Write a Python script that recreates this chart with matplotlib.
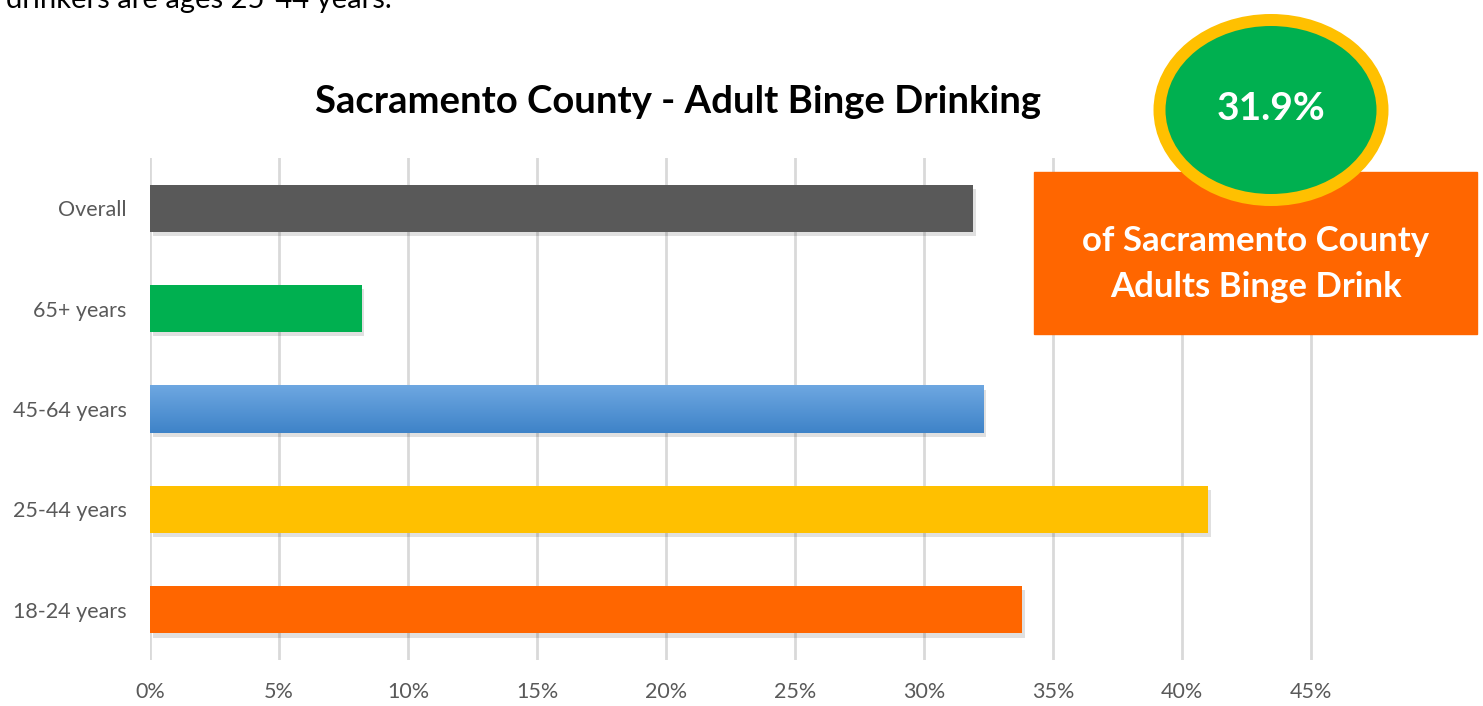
import numpy as np
import matplotlib
matplotlib.use('Agg')
import matplotlib.pyplot as plt
from matplotlib import patheffects as pe
from matplotlib.patches import Rectangle, Ellipse
from matplotlib.ticker import PercentFormatter

plt.rcParams['font.family'] = ['Lato', 'DejaVu Sans']

# data (top to bottom as in the chart)
categories = ['Overall', '65+ years', '45-64 years', '25-44 years', '18-24 years']
values = [31.9, 8.2, 32.3, 41.0, 33.8]
colors = ['#595959', '#00B050', '#5B9BD5', '#FFC000', '#FF6600']
xticks = [0, 5, 10, 15, 20, 25, 30, 35, 40, 45]
title = 'Sacramento County - Adult Binge Drinking'
headline = '31.9%'
headline_sub = 'of Sacramento County\nAdults Binge Drink'
intro_tail = 'drinkers are ages 25-44 years.'

W, H = 1483, 706
fig = plt.figure(figsize=(W / 100, H / 100), dpi=100)
ax = fig.add_axes([150 / W, 1 - 660 / H, 1290 / W, 502 / H])

y = np.arange(len(categories))
shadow = [pe.SimplePatchShadow(offset=(2, -3), shadow_rgbFace='#000000', alpha=0.12), pe.Normal()]
bars = ax.barh(y, values, height=0.47, color=colors, zorder=3)
for b in bars:
    b.set_path_effects(shadow)

# blue bar has a vertical gradient
blue = bars[2]
grad = np.linspace(0, 1, 64).reshape(-1, 1)
cmap = matplotlib.colors.LinearSegmentedColormap.from_list('bl', ['#6EA7E1', '#3E83C8'])
im = ax.imshow(grad, extent=(0, values[2], y[2] + 0.235, y[2] - 0.235), cmap=cmap,
               aspect='auto', zorder=4, origin='upper')
im.set_clip_path(blue)

ax.set_xlim(0, 50)
ax.set_ylim(len(categories) - 0.5, -0.5)
ax.set_xticks(xticks)
ax.xaxis.set_major_formatter(PercentFormatter(decimals=0))
ax.set_yticks(y)
ax.set_yticklabels(categories)
ax.grid(axis='x', color='#D9D9D9', linewidth=2, zorder=0)
ax.set_axisbelow(True)
for s in ax.spines.values():
    s.set_visible(False)
ax.tick_params(axis='both', length=0, colors='#595959', labelsize=15.5)
ax.tick_params(axis='x', pad=16)
ax.tick_params(axis='y', pad=17)

# overlay in pixel coords for title and callout
ov = fig.add_axes([0, 0, 1, 1], zorder=10)
ov.set_xlim(0, W)
ov.set_ylim(H, 0)
ov.axis('off')

ov.text(678, 102, title, ha='center', va='center', fontsize=27.5, fontweight='bold', color='black')
ov.text(6, 8, intro_tail, ha='left', va='baseline', fontsize=21, color='black')

ov.add_patch(Rectangle((1034, 172), 443, 162, color='#FF6600', zorder=1))
ov.add_patch(Ellipse((1271, 110), 235, 192, facecolor='#FFC000', zorder=2))
ov.add_patch(Ellipse((1271, 110), 211, 168, facecolor='#00B050', zorder=3))
ov.text(1271, 108, headline, ha='center', va='center', fontsize=28, fontweight='bold',
        color='white', zorder=4)
ov.text(1256, 264, headline_sub, ha='center', va='center', fontsize=25, fontweight='bold',
        color='white', linespacing=1.55, zorder=4)

fig.savefig('out.png', dpi=100)
